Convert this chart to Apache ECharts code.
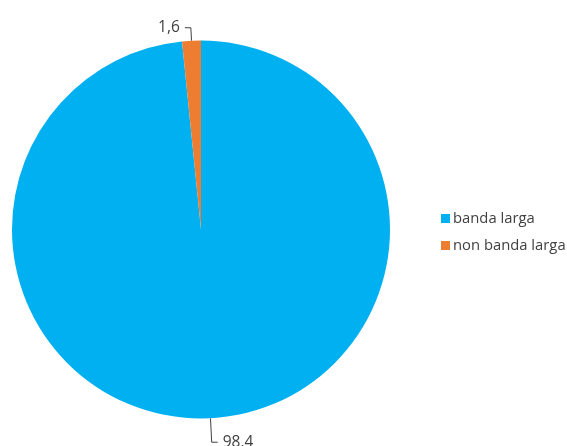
<!DOCTYPE html>
<html>
<head>
<meta charset="utf-8">
<script src="https://cdn.jsdelivr.net/npm/echarts@6/dist/echarts.min.js"></script>
<style>
  html, body { margin: 0; padding: 0; background: #fff; }
  #main { width: 567px; height: 446px; }
</style>
</head>
<body>
<div id="main"></div>
<script>
// dati del grafico
var categories = ['banda larga', 'non banda larga'];
var values = [98.4, 1.6];
var valueLabels = ['98.4', '1,6'];
var colors = ['#00B0F0', '#ED7D31'];
var lineLengths = [24, 13];

var chart = echarts.init(document.getElementById('main'));

var data = [];
for (var i = 0; i < categories.length; i++) {
  data.push({
    name: categories[i],
    value: values[i],
    label: { formatter: valueLabels[i] },
    labelLine: { length: lineLengths[i], length2: 6 }
  });
}

var option = {
  animation: false,
  color: colors,
  textStyle: { fontFamily: 'Open Sans' },
  legend: {
    orient: 'vertical',
    left: 436,
    top: 206,
    itemWidth: 9,
    itemHeight: 9,
    itemGap: 12,
    icon: 'rect',
    textStyle: { fontSize: 14.8, color: '#404040', padding: [0, 0, 0, -2] },
    data: categories
  },
  series: [{
    type: 'pie',
    center: [201, 229.5],
    radius: [0, 189],
    startAngle: 90,
    clockwise: true,
    label: {
      show: true,
      position: 'outside',
      fontSize: 15.5,
      color: '#404040'
    },
    labelLine: {
      show: true,
      lineStyle: { color: '#404040', width: 1 }
    },
    emphasis: { disabled: true },
    data: data
  }]
};

chart.setOption(option);
</script>
</body>
</html>
